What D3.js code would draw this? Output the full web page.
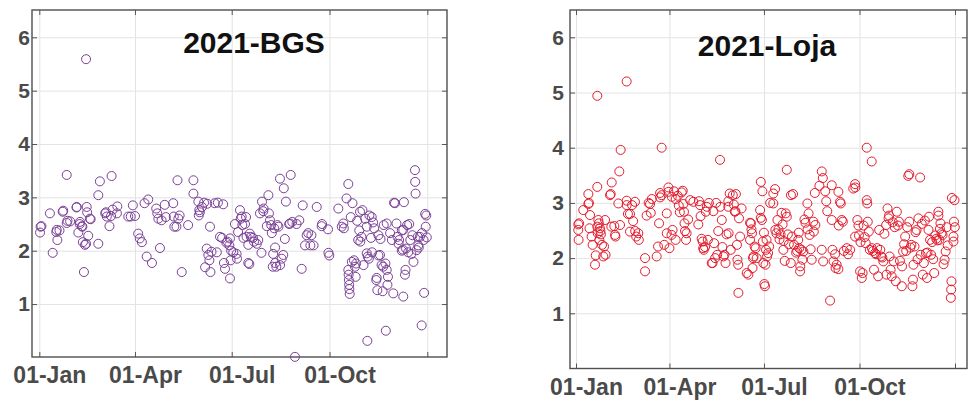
<!DOCTYPE html>
<html>
<head>
<meta charset="utf-8">
<script src="https://cdn.jsdelivr.net/npm/d3@7"></script>
<style>
  body { margin: 0; background: #fff; }
  svg { display: block; font-family: "Liberation Sans", Arial, sans-serif; }
</style>
</head>
<body>
<div id="chart"></div>
<script>
// values: [day of 2021, value]
const bgsPoints = [
  [0.7,2.34],[1.2,2.45],[2,2.46],[10,2.70],[12.6,1.96],[16,2.35],[16.4,2.39],[17,2.20],[19,2.38],[22,2.73],[22.5,2.75],[25.8,2.52],[25.8,3.42],[26.5,2.56],[29,2.55],
  [35,2.81],[35.2,2.82],[36.7,2.34],[38,2.50],[38.3,2.54],[40,2.46],[40.5,2.45],[41,2.16],[42,1.60],[43,2.11],[44,2.13],[44,5.59],[44.6,2.82],[45,2.72],[46,2.28],[47.6,2.60],[48.3,2.59],[55.5,2.13],[55.5,3.04],[57,3.30],
  [62,2.70],[62.7,2.72],[63.5,2.64],[66,2.46],[67.5,2.65],[68,3.40],[69,2.77],[73,2.70],[73.4,2.83],[83.7,2.64],[86,2.64],[88,2.85],
  [90,2.65],[93,2.32],[94.5,2.23],[96.5,2.16],[99,2.89],[101,1.89],[102.5,2.96],[106,1.77],[110,2.79],[111,2.70],[112,2.60],[113.5,2.05],[115,2.57],[118,2.86],[119,2.63],
  [126,2.89],[126.5,2.64],[127,2.45],[129,2.45],[130,3.32],[130.8,2.60],[132,2.66],[134,1.60],[140,2.48],[145,3.32],[145,3.07],[149.6,2.92],[150,2.66],[150.5,2.76],[151,2.72],
  [153,2.82],[155,2.90],[157.5,2.04],[158,2.88],[159,1.92],[156,1.69],[160,1.82],[160.6,2.45],[161,1.60],[162,1.98],[165,2.89],[167,1.97],[168,2.90],[170,2.26],[172,2.24],[173,2.87],[173.7,1.77],[174.7,1.66],[176,2.15],[177,2.17],[178.8,2.10],[179.4,1.48],[179.4,2.23],[180,1.82],[180.5,2.00],
  [182.5,1.97],[184,2.50],[185.6,1.94],[186,1.85],[187,2.35],[188.8,2.76],[189.5,2.60],[190.4,2.64],[191,2.48],[192,2.24],[193.5,2.50],[194.5,2.63],[195,2.26],[196.6,1.77],[196.6,2.11],[197.6,1.75],[198,2.32],[199,2.26],[201,2.24],[202,2.17],[204.6,2.13],[206,2.20],[207.6,2.70],[209,1.96],[209.5,2.92],[210.7,2.74],[211,2.79],
  [214,2.46],[215.5,3.04],[216,2.70],[217,2.57],[218.7,2.33],[218.2,2.48],[219.6,1.70],[220,1.94],[221,2.42],[221.8,2.06],[222,1.77],[223,1.70],[224,2.48],[225,2.45],[226.4,3.35],[226.5,1.73],[228,1.85],[229.5,1.92],[230,3.17],[231,2.22],[232,2.92],[235,2.50],[235.8,2.51],[236.5,3.42],[238,2.54],[240.5,0.01],[242,2.50],
  [244.6,2.57],[246.8,1.66],[247.8,2.85],[250,2.10],[251.5,2.29],[253,2.33],[255,2.10],[256,2.29],[258,2.10],[261,2.82],[265.6,2.46],[266,2.50],[271.6,2.40],[272,1.96],[272.8,1.91],
  [281.3,2.79],[284.5,2.45],[286,2.51],[286.5,2.42],[289,2.98],[290.7,3.25],[290.7,1.64],[291,1.55],[291.2,1.45],[291.5,1.36],[291.7,1.28],[292,1.19],[293,2.63],[294,1.79],[294.6,2.89],[296,1.82],[297,1.70],[297.6,1.51],[298,1.76],[299,2.56],[300,2.20],[301,2.38],[301.7,2.73],[302,2.17],[303,2.26],[304,2.76],
  [305,1.73],[306.6,2.60],[308,2.45],[308,1.95],[308.6,0.31],[309,1.89],[310,1.85],[310.5,2.66],[312,2.24],[312.7,2.63],[313,1.97],[314,2.53],[315,2.42],[317,1.45],[317.4,1.49],[318,1.26],[319,2.29],[319,1.91],[320.5,1.92],[321,2.22],[322,1.73],[323,1.24],[323.5,1.70],[324,2.48],[325.6,1.76],[326,0.50],[326.8,2.51],[326.8,1.64],[327.5,1.36],[328,1.51],[330,2.33],[331.7,2.20],[333,1.20],[333.7,2.90],[334.6,2.89],
  [336,2.51],[337,2.26],[338,2.13],[338.5,2.20],[341,2.38],[341,2.00],[342,2.02],[342.4,2.39],[342.4,1.14],[343,2.91],[344,1.55],[344.5,1.64],[345,2.04],[346,2.48],[347,1.97],[348,2.50],[349,2.20],[350,1.94],[351,2.29],[352,1.79],[353.4,3.51],[353.6,3.29],[354,3.07],[355,2.01],[356,2.26],[356.5,2.10],[357,2.06],[358,2.26],[359.7,0.60],[360,2.33],[361.5,2.20],[362,1.21],[363,2.69],[363.5,2.45],[364,2.66],[364.5,2.25]
];

const lojaPoints = [
  [2.2,2.51],[2.2,2.61],[2.5,2.33],[3,2.63],[7,2.87],[11.9,3.16],[11.9,2.98],[12.5,3.00],[13.5,2.78],[13,2.54],[15,2.39],[16,2.24],[18.3,1.88],[19,2.05],[20.5,4.94],[20.5,3.29],[20.5,2.57],[21.5,2.69],[21,2.45],[22,2.63],[22.5,2.33],[23,2.54],[23.5,2.49],[24,2.43],[25,2.24],[26.3,2.03],[27,2.21],[28,2.69],[28.5,2.06],[32.8,3.14],[33.4,3.16],[34.4,3.37],[34,2.57],
  [36.9,2.58],[37.6,2.42],[38,2.39],[40.8,2.99],[41.7,3.57],[42.4,2.60],[43,3.96],[48.8,5.20],[48.8,3.04],[48.8,2.96],[50,2.80],[52,2.80],[52,2.48],[54,2.96],[55,2.67],[56.8,3.02],[57,2.49],[58,2.39],
  [60,2.45],[60.5,2.33],[66.5,2.00],[66.5,1.76],[68,2.77],[70,3.00],[71.3,2.98],[72,2.82],[73,3.07],[77.7,2.03],[79,2.21],[80,2.63],[81,3.10],[81,3.18],[82.5,4.00],[82.5,3.14],[85,2.24],[87.4,2.81],
  [87.4,2.45],[89,3.28],[89,3.20],[90,2.18],[92.2,3.11],[92,2.42],[93,2.51],[94.4,3.21],[96,3.07],[96,2.33],[98,3.13],[99,2.95],[100,2.83],[101.8,3.19],[102.8,3.22],[103.4,2.98],[104,2.84],[104.5,2.63],[105,2.49],[106,2.33],[106.5,2.45],[108,2.70],[110,3.05],[113,3.02],[117.8,2.61],[118.5,3.03],[119.5,2.96],
  [120,2.76],[121,2.35],[122,2.30],[122.5,2.18],[123,2.15],[124.3,2.20],[125,2.84],[126,2.93],[127,2.33],[128,3.00],[130.7,1.91],[131.5,1.91],[132.3,2.85],[133,2.27],[134,2.00],[135,3.00],[136,2.06],[137,2.49],[138.7,3.78],[139,2.93],[140.4,2.69],[141,2.20],[142,2.03],[143,2.06],[144,1.91],[145,2.43],[146.7,2.93],[146.7,3.03],[147,2.45],[148,3.17],[149,2.15],
  [151,3.14],[152,2.97],[153,2.84],[153.5,2.85],[154,3.16],[155,2.24],[155.5,1.97],[156.2,1.88],[156.4,1.37],[157,2.72],[158,2.39],[159.5,2.90],[164.4,1.73],[166,1.70],[167.6,2.33],[167.6,2.64],[168.5,2.63],[169,2.52],[169.5,2.45],[170,1.82],[170.5,2.00],[171,2.03],[172,2.21],[173,2.18],[174,2.00],[177.3,2.87],[178,3.38],[178,2.73],[179,2.69],[179.5,3.21],[180,2.30],
  [180.4,1.91],[181,2.46],[181.4,1.53],[182,1.49],[182.5,1.88],[183,2.15],[183.5,2.33],[184,2.03],[185,2.09],[186,2.21],[187,3.00],[190,2.99],[190,3.17],[191.7,3.25],[192,2.51],[193,2.45],[194,2.69],[195,2.52],[196,2.34],[197,2.43],[198,2.82],[199,2.61],[199.7,2.15],[200,2.31],[201,1.95],[202,2.81],[203,3.60],[203,2.75],[204,2.43],[205,2.25],[206.8,1.91],[207,3.14],[208,2.39],[209,3.16],[210,2.24],
  [212,2.10],[213,2.13],[214,2.33],[214.5,2.46],[215,2.18],[215.8,1.76],[216,1.85],[217,2.15],[218,1.97],[219,2.12],[220,2.70],[221,2.64],[222.8,2.99],[223,2.52],[224,2.81],[225,2.42],[226,2.16],[227,1.97],[228.6,2.66],[229,2.48],[230,3.18],[230.5,2.60],[234.4,3.31],[236.7,2.15],[236.7,3.57],[237.7,3.45],[238,1.94],[240,3.21],[241,3.03],[242,2.85],
  [244.7,1.23],[246.3,3.32],[246.3,2.69],[247,2.15],[248,1.94],[249.5,2.07],[250,1.82],[251,1.88],[252.7,3.20],[252.7,1.80],[253,2.59],[254.3,3.02],[255,2.99],[256,2.69],[257,2.66],[258,2.13],[260.8,2.18],[262,2.07],[264,2.15],[267,3.26],[268.8,3.34],[268.8,2.39],[269,3.28],[271,2.69],
  [272,2.59],[272.5,2.41],[273.6,1.76],[274,2.29],[275.2,1.64],[276,1.73],[277,2.59],[278,2.38],[279,2.27],[280,4.00],[280,3.05],[280.5,2.99],[281,2.66],[282,2.48],[283,2.15],[284.8,3.75],[285,2.18],[286,2.13],[287,1.79],[288,2.09],[289,2.07],[290,2.18],[291,1.67],[292,2.51],[293,2.15],[294,2.03],[295,2.01],[296,1.94],[297,2.44],[298.7,2.60],[299,1.70],
  [300,2.90],[301,2.72],[301.5,2.77],[302,2.03],[303,1.79],[304,1.67],[305,2.65],[306,1.94],[307,2.56],[308,1.58],[309,2.84],[310,2.59],[311,2.66],[312,1.95],[313.8,1.49],[314,1.85],[315,2.12],[316,2.25],[317,2.39],[318,2.13],[319,2.56],[320,3.49],[321,3.52],[321,2.66],[322,2.19],[323,2.24],[324,1.49],[324.5,1.61],[325,1.88],[326,2.21],[327,2.47],[328,2.51],[329,1.98],[329.8,2.72],[331.4,3.46],[332,2.06],[333,2.62],[334,1.70],
  [335,1.91],[336,2.68],[337,2.09],[338,1.64],[338.5,2.10],[339.5,2.51],[340,2.75],[341,2.33],[342,2.06],[343,2.29],[344,1.98],[345,1.73],[346,2.41],[347,2.35],[348,2.32],[349,2.84],[349,2.77],[350,2.33],[350.5,2.53],[351,2.63],[352,2.45],[353,2.42],[354,1.89],[355,1.97],[356,2.12],[357,2.56],[358,2.23],[361,1.28],[361.3,1.43],[361.6,1.58],[362,3.09],[363.5,2.39],[363.5,2.30],[364,2.66],[364.5,3.05],[364.8,2.56]
];

const titles = ['2021-BGS', '2021-Loja'];
const xTickDates = [new Date(Date.UTC(2021,0,1)), new Date(Date.UTC(2021,3,1)), new Date(Date.UTC(2021,6,1)), new Date(Date.UTC(2021,9,1)), new Date(Date.UTC(2022,0,1))];
const xTickLabels = ['01-Jan', '01-Apr', '01-Jul', '01-Oct', ''];
const yTicks = [1, 2, 3, 4, 5, 6];

const width = 976, height = 401;
const start = Date.UTC(2021, 0, 1);
const toDate = d => new Date(start + d * 864e5);

const panels = [
  { title: titles[0], data: bgsPoints, color: '#7a3f96',
    x0: 32, x1: 447, y0: 10, y1: 357, xJan: 39.3, xEnd: 427.3, yZero: 357.4, ySix: 37.3,
    titleX: 254, titleY: 53, yLabelX: 30, xLabelY: 383 },
  { title: titles[1], data: lojaPoints, color: '#e31b2c',
    x0: 570, x1: 967, y0: 10, y1: 368.5, xJan: 576, xEnd: 955, yZero: 368.5, ySix: 37.3,
    titleX: 767, titleY: 56, yLabelX: 564, xLabelY: 395 }
];

const svg = d3.select('#chart').append('svg')
  .attr('width', width)
  .attr('height', height);

panels.forEach(p => {
  const xScale = d3.scaleUtc()
    .domain([xTickDates[0], xTickDates[4]])
    .range([p.xJan, p.xEnd]);
  const yScale = d3.scaleLinear()
    .domain([0, 6])
    .range([p.yZero, p.ySix]);
  const g = svg.append('g');

  // grid
  g.append('g')
    .attr('class', 'grid')
    .attr('transform', 'translate(0,' + p.y1 + ')')
    .call(d3.axisBottom(xScale).tickValues(xTickDates).tickSize(-(p.y1 - p.y0)).tickFormat(''));
  g.append('g')
    .attr('class', 'grid')
    .attr('transform', 'translate(' + p.x0 + ',0)')
    .call(d3.axisLeft(yScale).tickValues(yTicks).tickSize(-(p.x1 - p.x0)).tickFormat(''));
  g.selectAll('.grid line').attr('stroke', '#e3e3e3').attr('stroke-width', 1);

  // inner ticks on all four sides
  const tl = 5;
  g.append('g').attr('class', 'ticks').attr('transform', 'translate(0,' + p.y1 + ')')
    .call(d3.axisBottom(xScale).tickValues(xTickDates).tickSize(-tl).tickFormat(''));
  g.append('g').attr('class', 'ticks').attr('transform', 'translate(0,' + p.y0 + ')')
    .call(d3.axisTop(xScale).tickValues(xTickDates).tickSize(-tl).tickFormat(''));
  g.append('g').attr('class', 'ticks').attr('transform', 'translate(' + p.x0 + ',0)')
    .call(d3.axisLeft(yScale).tickValues(yTicks).tickSize(-tl).tickFormat(''));
  g.append('g').attr('class', 'ticks').attr('transform', 'translate(' + p.x1 + ',0)')
    .call(d3.axisRight(yScale).tickValues(yTicks).tickSize(-tl).tickFormat(''));
  g.selectAll('.ticks line').attr('stroke', '#555');
  g.selectAll('.domain').remove();

  // box
  g.append('rect')
    .attr('x', p.x0).attr('y', p.y0)
    .attr('width', p.x1 - p.x0).attr('height', p.y1 - p.y0)
    .attr('fill', 'none')
    .attr('stroke', '#4f4f4f')
    .attr('stroke-width', 1.4);

  // points
  g.append('g').selectAll('circle')
    .data(p.data)
    .join('circle')
    .attr('cx', d => xScale(toDate(d[0])))
    .attr('cy', d => yScale(d[1]))
    .attr('r', 4.5)
    .attr('fill', 'none')
    .attr('stroke', p.color)
    .attr('stroke-width', 1);

  // tick labels
  g.append('g')
    .attr('transform', 'translate(10,' + (p.xLabelY - 17) + ')')
    .call(d3.axisBottom(xScale).tickValues(xTickDates).tickSize(0).tickPadding(0)
      .tickFormat((d, i) => xTickLabels[i]))
    .call(s => s.select('.domain').remove())
    .call(s => s.selectAll('text')
      .attr('y', 17).attr('dy', 0)
      .attr('font-family', '"Liberation Sans", Arial, sans-serif')
      .attr('font-size', 23).attr('font-weight', 'bold').attr('fill', '#4a4a4a'));
  g.append('g')
    .attr('transform', 'translate(' + p.yLabelX + ',0)')
    .call(d3.axisLeft(yScale).tickValues(yTicks).tickSize(0).tickPadding(0).tickFormat(d3.format('d')))
    .call(s => s.select('.domain').remove())
    .call(s => s.selectAll('text')
      .attr('font-family', '"Liberation Sans", Arial, sans-serif')
      .attr('font-size', 21).attr('font-weight', 'bold').attr('fill', '#4a4a4a'));

  // title
  g.append('text')
    .attr('x', p.titleX).attr('y', p.titleY)
    .attr('text-anchor', 'middle')
    .attr('font-size', 30).attr('font-weight', 'bold')
    .attr('fill', '#111')
    .text(p.title);
});
</script>
</body>
</html>
